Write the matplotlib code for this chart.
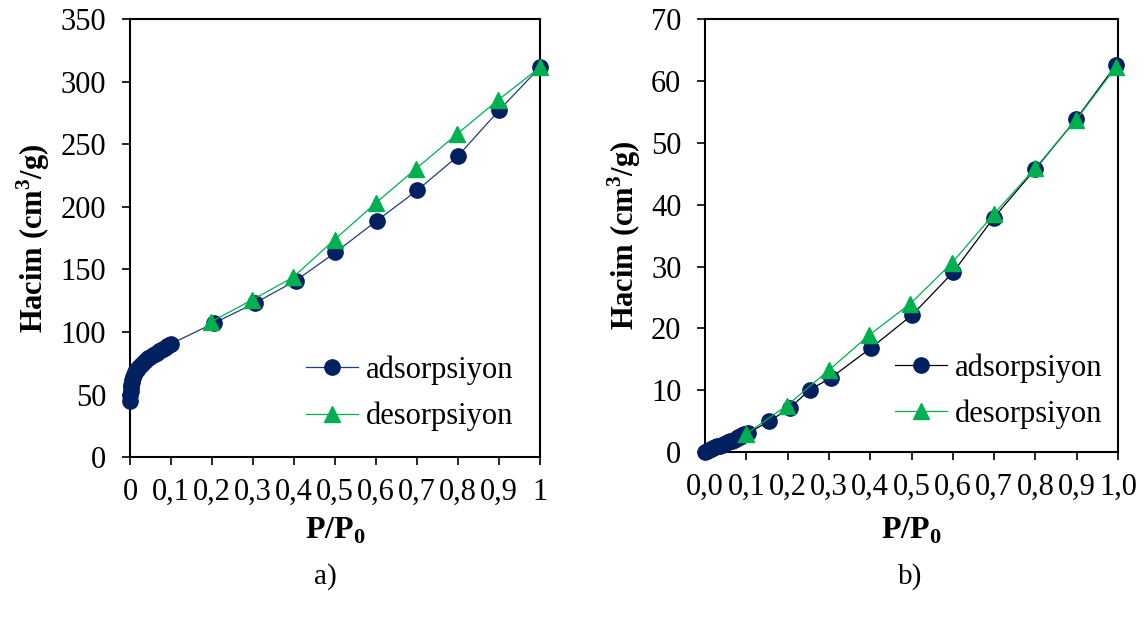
import numpy as np
import matplotlib
matplotlib.use("Agg")
from matplotlib import pyplot as plt

plt.rcParams['font.family'] = ['Liberation Serif', 'DejaVu Serif']
plt.rcParams['mathtext.fontset'] = 'custom'
plt.rcParams['mathtext.rm'] = 'Liberation Serif'
plt.rcParams['mathtext.bf'] = 'Liberation Serif:bold'

# a) adsorption / desorption isotherm
a_ads_p = [0.0005, 0.001, 0.0015, 0.002, 0.003, 0.004, 0.005, 0.007, 0.010, 0.013,
           0.017, 0.020, 0.025, 0.030, 0.035, 0.040, 0.045, 0.050, 0.055, 0.060,
           0.065, 0.070, 0.075, 0.080, 0.085, 0.090, 0.095, 0.100,
           0.204, 0.304, 0.404, 0.501, 0.602, 0.701, 0.800, 0.901, 1.0]
a_ads_v = [45, 50, 53, 56, 58, 60, 62, 64, 66, 68,
           70, 71, 73, 74.5, 76, 77.5, 79, 80, 81.5, 82.5,
           83.5, 84.5, 85.5, 86.5, 87.5, 88.5, 89.5, 90.5,
           107, 123, 141, 163.6, 189, 213.4, 240.8, 277.6, 311.7]
a_des_p = [0.198, 0.298, 0.398, 0.499, 0.599, 0.697, 0.798, 0.898, 1.0]
a_des_v = [108.2, 125.7, 143.8, 173.9, 203, 230.4, 258.4, 285.6, 311.7]

# b) adsorption / desorption isotherm
b_ads_p = [0.0, 0.005, 0.010, 0.015, 0.020, 0.025, 0.030, 0.035, 0.040, 0.045,
           0.050, 0.055, 0.060, 0.065, 0.070, 0.075, 0.080, 0.085, 0.090, 0.095,
           0.105, 0.155, 0.206, 0.254, 0.304, 0.403, 0.502, 0.601, 0.699, 0.800,
           0.899, 0.995]
b_ads_v = [0.0, 0.2, 0.35, 0.5, 0.6, 0.75, 0.9, 1.0, 1.1, 1.25,
           1.4, 1.55, 1.7, 1.85, 2.0, 2.15, 2.35, 2.5, 2.7, 2.9,
           3.1, 4.96, 7.17, 10.09, 11.97, 16.9, 22.2, 29.1, 37.9, 45.8,
           53.9, 62.6]
b_des_p = [0.098, 0.198, 0.299, 0.397, 0.497, 0.598, 0.699, 0.800, 0.899, 0.995]
b_des_v = [2.86, 7.5, 13.2, 18.9, 24.0, 30.6, 38.5, 45.95, 53.8, 62.3]

xticks = np.round(np.arange(0, 1.01, 0.1), 1)
a_xlabels = ["0", "0,1", "0,2", "0,3", "0,4", "0,5", "0,6", "0,7", "0,8", "0,9", "1"]
b_xlabels = ["0,0", "0,1", "0,2", "0,3", "0,4", "0,5", "0,6", "0,7", "0,8", "0,9", "1,0"]

NAVY = "#002060"
GREEN = "#00B050"

fig = plt.figure(figsize=(11.44, 6.18), dpi=100)
ax1 = fig.add_axes([0.1136, 0.2605, 0.3584, 0.708])
ax2 = fig.add_axes([0.6163, 0.2686, 0.361, 0.700])


def style(ax, ymax, ystep, xlabels, xlabelpad):
    ax.set_xlim(0, 1)
    ax.set_ylim(0, ymax)
    ax.set_xticks(xticks)
    ax.set_xticklabels(xlabels)
    ax.set_yticks(np.arange(0, ymax + 1, ystep))
    ax.tick_params(direction='out', length=6, width=1.2, labelsize=22)
    ax.tick_params(axis='y', pad=11)
    ax.tick_params(axis='x', pad=9)
    for s in ax.spines.values():
        s.set_linewidth(1.5)
    ax.set_ylabel(r"Hacim (cm$^\mathbf{3}$/g)", fontsize=22, fontweight='bold', labelpad=6)
    ax.set_xlabel(r"P/P$_\mathbf{0}$", fontsize=23, fontweight='bold', labelpad=xlabelpad)


style(ax1, 350, 50, a_xlabels, 6)
style(ax2, 70, 10, b_xlabels, 10)

ax1.plot(a_ads_p, a_ads_v, color="#1F3D7A", lw=0.9, marker='o', ms=11,
         mfc=NAVY, mec=NAVY, label="adsorpsiyon", clip_on=False, zorder=3)
ax1.plot(a_des_p, a_des_v, color=GREEN, lw=0.9, marker='^', ms=11,
         mfc=GREEN, mec=GREEN, label="desorpsiyon", clip_on=False, zorder=4)

ax2.plot(b_ads_p, b_ads_v, color="black", lw=0.9, marker='o', ms=11,
         mfc=NAVY, mec=NAVY, label="adsorpsiyon", clip_on=False, zorder=3)
ax2.plot(b_des_p, b_des_v, color=GREEN, lw=0.9, marker='^', ms=11,
         mfc=GREEN, mec=GREEN, label="desorpsiyon", clip_on=False, zorder=4)

for ax, x0, y0 in ((ax1, 0.43, 0.145), (ax2, 0.46, 0.141)):
    ax.legend(loc='center left', bbox_to_anchor=(x0, y0), frameon=False,
              fontsize=22, handlelength=1.7, handletextpad=0.25,
              labelspacing=0.55, borderpad=0, borderaxespad=0)

fig.text(325 / 1144, 1 - 577 / 618, "a)", fontsize=21, ha='center', va='center')
fig.text(910 / 1144, 1 - 577 / 618, "b)", fontsize=21, ha='center', va='center')

fig.savefig("out.png", dpi=100)
